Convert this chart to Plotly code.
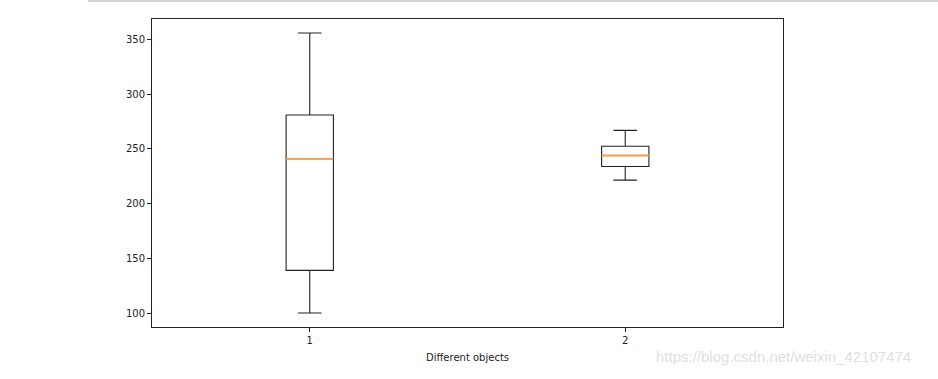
import plotly.graph_objects as go

# Data
categories = [1, 2]
q1_vals = [139, 234]
median_vals = [241, 244]
q3_vals = [281, 252.5]
lower_vals = [100, 221.5]
upper_vals = [356, 267]
x_title = "Different objects"
y_ticks = [100, 150, 200, 250, 300, 350]
watermark = "https://blog.csdn.net/weixin_42107474"

BOX_W = 0.15
lo = min(lower_vals)
hi = max(upper_vals)
pad = 0.05 * (hi - lo)

fig = go.Figure()
fig.add_trace(go.Box(
    x=categories, q1=q1_vals, median=median_vals, q3=q3_vals,
    lowerfence=lower_vals, upperfence=upper_vals,
    width=BOX_W, whiskerwidth=0.5,
    line=dict(color="#222222", width=1.1),
    fillcolor="rgba(0,0,0,0)",
    boxpoints=False, hoverinfo="skip", showlegend=False,
))
# orange median lines
for c, m in zip(categories, median_vals):
    fig.add_trace(go.Scatter(
        x=[c - BOX_W / 2, c + BOX_W / 2], y=[m, m], mode="lines",
        line=dict(color="#ff9a45", width=1.8),
        hoverinfo="skip", showlegend=False,
    ))

fig.update_layout(
    width=938, height=379,
    margin=dict(l=152, r=155, t=19, b=52),
    paper_bgcolor="white", plot_bgcolor="white",
    font=dict(family="DejaVu Sans", size=10, color="#222222"),
    xaxis=dict(
        range=[0.5, 2.5], tickvals=categories, ticktext=[str(c) for c in categories],
        showgrid=False, zeroline=False, showline=True, mirror=True,
        linecolor="#222222", linewidth=1, ticks="outside", ticklen=4,
        tickcolor="#222222", tickwidth=1,
        title=dict(text=x_title, font=dict(size=10), standoff=8),
    ),
    yaxis=dict(
        range=[lo - pad, hi + pad], tickvals=y_ticks,
        showgrid=False, zeroline=False, showline=True, mirror=True,
        linecolor="#222222", linewidth=1, ticks="outside", ticklen=4,
        tickcolor="#222222", tickwidth=1,
    ),
    shapes=[dict(type="line", xref="paper", yref="paper",
                 x0=(88 - 152) / 631, x1=(938 - 152) / 631,
                 y0=(327 - 1) / 308, y1=(327 - 1) / 308,
                 line=dict(color="#d4d4d4", width=2))],
    annotations=[dict(text=watermark, xref="paper", yref="paper",
                      x=(913 - 152) / 631, y=-(356 - 327) / 308,
                      xanchor="right", yanchor="middle", showarrow=False,
                      font=dict(family="Liberation Sans", size=15, color="#e0e0e0"))],
)

fig.write_html("out.html", config={"displayModeBar": False},
               post_script="document.body.style.margin='0';")
